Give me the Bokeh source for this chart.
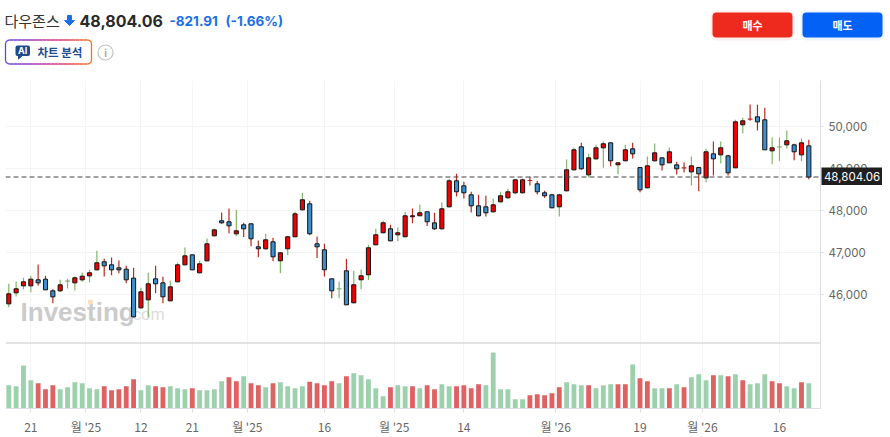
import numpy as np
from bokeh.embed import file_html
from bokeh.layouts import column
from bokeh.models import BoxAnnotation, FixedTicker, Label, LinearAxis, NumeralTickFormatter, Range1d, Span
from bokeh.plotting import figure
from bokeh.resources import INLINE

# values
opens = [45784, 46046, 46213, 46213, 46356, 46372, 46094, 46094, 46325, 46284,
         46356, 46451, 46594, 46785, 46713, 46642, 46610, 46396, 45689, 45880,
         46380, 46284, 45856, 46308, 46713, 46951, 46523, 46808, 47404, 47762,
         47738, 47452, 47666, 47690, 47142, 47095, 47261, 46809, 47095, 47381,
         48023, 48166, 47214, 47071, 46380, 46142, 46571, 45809, 46357, 46476,
         47190, 47476, 47571, 47428, 47381, 47857, 47881, 47976, 47713, 47571,
         48094, 48714, 48594, 48380, 48118, 48094, 47975, 48213, 48309, 48428,
         48428, 48721, 48642, 48428, 48380, 48094, 48475, 48975, 49523, 48856,
         49237, 49499, 49618, 49095, 49190, 49475, 49029, 48546, 49189, 49261,
         49142, 49094, 49023, 48927, 49029, 48784, 49356, 49332, 49308, 49023,
         50047, 50181, 50237, 50166, 49427, 49523, 49570, 49570, 49332, 49546]
closes = [46023, 46142, 46308, 46372, 46284, 46118, 45951, 46237, 46325, 46404,
          46443, 46523, 46761, 46689, 46594, 46594, 46356, 45475, 46070, 46261,
          46261, 45951, 46189, 46713, 46927, 46594, 46737, 47213, 47546, 47714,
          47642, 47523, 47571, 47333, 47095, 47309, 46904, 47000, 47381, 47928,
          48262, 47452, 47142, 46595, 46095, 46142, 45761, 46238, 46452, 47119,
          47428, 47714, 47285, 47476, 47881, 47881, 47952, 47738, 47571, 48047,
          48714, 48452, 48428, 48118, 47880, 47952, 48142, 48356, 48452, 48737,
          48737, 48721, 48452, 48356, 48071, 48380, 48975, 49452, 49000, 49261,
          49499, 49595, 49190, 49142, 49452, 49356, 48499, 49070, 49380, 49094,
          49404, 48999, 49023, 49070, 48880, 49404, 49237, 49499, 48904, 50118,
          50142, 50181, 50118, 49451, 49499, 49523, 49666, 49404, 49618, 48804]
highs = [46261, 46316, 46404, 46451, 46721, 46451, 46134, 46356, 46380, 46435,
         46531, 46594, 47046, 46856, 46888, 46816, 46689, 46642, 46165, 46523,
         46689, 46427, 46340, 46769, 47126, 46951, 46808, 47340, 47570, 47960,
         48055, 48023, 47714, 47690, 47293, 47452, 47357, 47000, 47404, 47976,
         48428, 48238, 47388, 47214, 46380, 46309, 46857, 46571, 46603, 47190,
         47571, 47762, 47666, 47603, 47976, 48055, 48150, 47976, 47952, 48198,
         48761, 48880, 48690, 48452, 48380, 48356, 48285, 48452, 48523, 48761,
         48761, 48809, 48714, 48475, 48404, 48404, 49221, 49499, 49618, 49356,
         49571, 49650, 49618, 49142, 49571, 49618, 49029, 49292, 49602, 49261,
         49507, 49166, 49150, 49292, 49046, 49475, 49650, 49650, 49332, 50166,
         50213, 50531, 50523, 50451, 49745, 49745, 49912, 49594, 49721, 49689]
lows = [45705, 45959, 46134, 46062, 46221, 46118, 45800, 46070, 46150, 46102,
        46308, 46300, 46578, 46435, 46467, 46515, 46277, 45467, 45673, 45467,
        46038, 45800, 45848, 46300, 46705, 46594, 46515, 46800, 47396, 47690,
        47468, 47396, 47373, 47158, 46896, 47071, 46801, 46515, 46944, 47373,
        48015, 47420, 46873, 46436, 45920, 45920, 45761, 45801, 46134, 46349,
        47182, 47468, 47277, 47277, 47373, 47706, 47873, 47635, 47547, 47547,
        48086, 48340, 48293, 47959, 47864, 47864, 47959, 48198, 48285, 48396,
        48420, 48602, 48388, 48309, 48063, 47864, 48467, 48960, 48975, 48801,
        49214, 49023, 49063, 48872, 49182, 49245, 48443, 48538, 49181, 48959,
        49134, 48864, 48911, 48602, 48467, 48681, 48840, 49126, 48840, 49015,
        49848, 50142, 49912, 49451, 49110, 49189, 49483, 49205, 49181, 48753]
volumes = [70, 67, 130, 85, 76, 58, 70, 58, 64, 79, 76, 61, 58, 67, 55, 58, 67, 88, 55, 70,
           67, 64, 67, 61, 58, 61, 55, 55, 58, 82, 94, 82, 97, 76, 70, 64, 76, 79, 67, 61,
           67, 81, 76, 70, 82, 76, 97, 106, 100, 88, 61, 37, 64, 70, 67, 67, 61, 70, 58, 73,
           67, 67, 70, 61, 73, 70, 169, 58, 58, 28, 28, 40, 43, 40, 46, 64, 79, 73, 70, 70,
           61, 70, 73, 73, 73, 133, 91, 82, 61, 61, 61, 73, 64, 94, 103, 85, 100, 100, 97, 103,
           85, 73, 76, 103, 82, 76, 67, 61, 79, 76]
wick_dirs = list("ggggrrrggggggrrrrrggrrgggrgggrrgrrrgrggggrrrrgrgggggrggrgrrggrrrrrggggrrrrrgggrgggrggrrggrgrrgrgrgrggrrrgggrgr")
vol_dirs = list("ggggrrrggggggrrrrrggrrgggrggggrrgrrgrggggrrrrgrgggggrggrgrrggrrrrggggggrrrrrgggrgggrrgrrggrgrgggrgrgrgggrrggrgr"[:110])

y_ticks = [46000, 47000, 48000, 49000, 50000]
x_ticks = [3, 10.5, 18, 25, 32.5, 43, 52.5, 62, 74.5, 86, 94.5, 105]
x_labels = ["21", "월 '25", "12", "21", "월 '25", "16", "월 '25", "14", "월 '26", "19", "월 '26", "16"]
last_price = 48804.06

KR = "Noto Sans CJK KR"
GRID = "#f3f4f7"
EDGE = "#dcdde6"
UP_WICK = {"g": "#7fb56a", "r": "#b52a1c"}
VOL = {"g": "#9dd0ad", "r": "#df6262"}
x_range = Range1d(-0.45, 110.59)

idx = np.arange(len(opens))
o, c = np.array(opens), np.array(closes)
body = o != c

# ---- header ----
head = figure(width=890, height=80, x_range=(0, 890), y_range=(80, 0), output_backend="svg",
              toolbar_location=None, x_axis_location=None, y_axis_location=None, min_border=0)
head.grid.visible = False
head.outline_line_color = None


def label(text, x, y, size, color, style="normal", font=KR, align="left"):
    head.add_layout(Label(x=x, y=y, text=text, text_font=font, text_font_size=size, text_color=color,
                          text_font_style=style, text_baseline="middle", text_align=align))


label("다우존스", 4, 20, "15px", "#333333")
head.patch([67, 71, 71, 74, 69, 64, 67], [15, 15, 20, 20, 25, 20, 20], color="#1a6fe8")
label("48,804.06", 79, 20.5, "16px", "#2a2a2a", "bold", "Inter")
label("-821.91", 169, 20.5, "13.5px", "#1a6fe8", "bold", "Inter")
label("(-1.66%)", 225, 20.5, "13.5px", "#1a6fe8", "bold", "Inter")

# buttons
for left, right, col, text in [(712, 792, "#ee2a1e", "매수"), (802, 882, "#0361f5", "매도")]:
    head.add_layout(BoxAnnotation(left=left - 2, right=right + 2, top=10, bottom=40, border_radius=6,
                                  fill_color=col, fill_alpha=0.07, line_color=None))
    head.add_layout(BoxAnnotation(left=left, right=right, top=12, bottom=37, border_radius=4,
                                  fill_color=col, fill_alpha=1, line_color=None))
    label(text, (left + right) / 2, 24, "11px", "white", "bold", KR, "center")

# AI button: gradient outline made of short pieces of a rounded box
t = np.linspace(0, np.pi / 2, 5)
rad = 4
bx = np.concatenate([5 + rad - rad * np.cos(t), 91 - rad + rad * np.sin(t),
                     91 - rad + rad * np.cos(t), 5 + rad - rad * np.sin(t), [5]])
by = np.concatenate([39.5 + rad - rad * np.sin(t), 39.5 + rad - rad * np.cos(t),
                     63.5 - rad + rad * np.sin(t), 63.5 - rad + rad * np.cos(t), [39.5 + rad]])
seg_x, seg_y, seg_c = [], [], []
stops = np.array([[91, 71, 224], [214, 42, 150], [249, 115, 22]])
for a in range(len(bx) - 1):
    n = max(2, int(abs(bx[a + 1] - bx[a]) / 4) + 1)
    xs, ys = np.linspace(bx[a], bx[a + 1], n), np.linspace(by[a], by[a + 1], n)
    for b in range(n - 1):
        f = ((xs[b] + xs[b + 1]) / 2 - 5) / 86
        rgb = [int(np.interp(f, [0, 0.55, 1], stops[:, k])) for k in range(3)]
        seg_x.append(list(xs[b:b + 2]))
        seg_y.append(list(ys[b:b + 2]))
        seg_c.append("#%02x%02x%02x" % tuple(rgb))
head.multi_line(seg_x, seg_y, line_color=seg_c, line_width=1.3)
head.add_layout(BoxAnnotation(left=15, right=29.5, top=45, bottom=55.5, border_radius=2,
                              fill_color="#1e4a8c", fill_alpha=1, line_color=None))
head.patch([18, 22, 18], [55, 55, 58.5], color="#1e4a8c")
label("AI", 22.2, 50, "9px", "white", "bold", "Inter", "center")
label("차트 분석", 37, 51, "11.5px", "#1f4b8f", "bold")
head.scatter([105], [52], size=15, marker="circle", fill_color=None, line_color="#c4c4c4", line_width=1.2)
label("i", 105, 52, "10px", "#aaaaaa", "bold", "Inter", "center")

# ---- prices ----
p = figure(width=890, height=262, x_range=x_range, y_range=Range1d(44864, 51102), output_backend="svg",
           toolbar_location=None, y_axis_location="right", min_border_left=5, min_border_right=70,
           min_border_top=0, min_border_bottom=0)
p.outline_line_color = None
p.xaxis.visible = False
p.xgrid.ticker = FixedTicker(ticks=x_ticks)
p.ygrid.ticker = FixedTicker(ticks=y_ticks)
p.grid.grid_line_color = GRID
p.yaxis.ticker = FixedTicker(ticks=y_ticks)
p.yaxis.formatter = NumeralTickFormatter(format="0,0")
p.yaxis.axis_line_color = EDGE
p.yaxis.major_tick_line_color = EDGE
p.yaxis.major_tick_in = 0
p.yaxis.major_tick_out = 3
p.yaxis.minor_tick_line_color = None
p.yaxis.major_label_text_color = "#666666"
p.yaxis.major_label_text_font = "Inter"
p.yaxis.major_label_text_font_size = "11.5px"

p.add_layout(Label(x=1.6, y=45600, text="Investing", text_font="Liberation Sans", text_font_style="bold",
                   text_font_size="26px", text_color="#cbcbcb", text_baseline="middle", level="underlay"))
p.add_layout(Label(x=16.2, y=45530, text=".com", text_font="Liberation Sans", text_font_size="17px",
                   text_color="#dcdcdc", text_baseline="middle", level="underlay"))
p.scatter([11.13], [45824], marker="square", size=4, color="#f8e0c0", level="underlay")

p.segment(idx, lows, idx, highs, line_color=[UP_WICK[d] for d in wick_dirs], line_width=1.2)
p.vbar(idx[body], top=np.maximum(o, c)[body], bottom=np.minimum(o, c)[body], width=0.56,
       fill_color=["#f00000" if u else "#3b8fd1" for u in (c > o)[body]], line_color="#111111", line_width=1)
p.segment(idx[~body] - 0.32, o[~body], idx[~body] + 0.32, o[~body],
          line_color=[UP_WICK[wick_dirs[i]] for i in idx[~body]], line_width=1.2)

p.add_layout(Span(location=last_price, dimension="width", line_color="#444444", line_width=1, line_dash=[5, 3]))

# last price tag sits over the axis, a small figure of its own
tag = figure(width=61, height=18, x_range=(0, 1), y_range=(0, 1), output_backend="svg", toolbar_location=None,
             x_axis_location=None, y_axis_location=None, min_border=0, background_fill_color="#1f1f1f",
             styles={"position": "absolute", "left": "821px", "top": "167px"})
tag.grid.visible = False
tag.outline_line_color = None
tag.add_layout(Label(x=0.5, y=0.5, text="48,804.06", text_color="white", text_font="Inter",
                     text_font_size="11.5px", text_align="center", text_baseline="middle"))

# ---- volume ----
v = figure(width=890, height=95, x_range=x_range, y_range=Range1d(0, 199), output_backend="svg",
           toolbar_location=None, min_border_left=5, min_border_right=70, min_border_top=0,
           min_border_bottom=29, y_axis_location=None)
v.outline_line_color = None
v.xgrid.ticker = FixedTicker(ticks=x_ticks)
v.xgrid.grid_line_color = GRID
v.ygrid.grid_line_color = None
v.xaxis.ticker = FixedTicker(ticks=x_ticks)
v.xaxis.major_label_overrides = dict(zip(x_ticks, x_labels))
v.xaxis.axis_line_color = EDGE
v.xaxis.major_tick_line_color = EDGE
v.xaxis.major_tick_in = 0
v.xaxis.major_tick_out = 4
v.xaxis.minor_tick_line_color = None
v.xaxis.major_label_text_color = "#666666"
v.xaxis.major_label_text_font = KR
v.xaxis.major_label_text_font_size = "12px"
v.add_layout(LinearAxis(ticker=FixedTicker(ticks=[]), axis_line_color=EDGE), "right")
v.add_layout(Span(location=198, dimension="width", line_color="#c6c6c8", line_width=1.5))
v.vbar(idx, top=volumes, bottom=0, width=0.66, fill_color=[VOL[d] for d in vol_dirs], line_color=None)

page = column(head, column(p, v, spacing=0), tag, spacing=0)
open("out.html", "w").write(file_html(page, INLINE))
